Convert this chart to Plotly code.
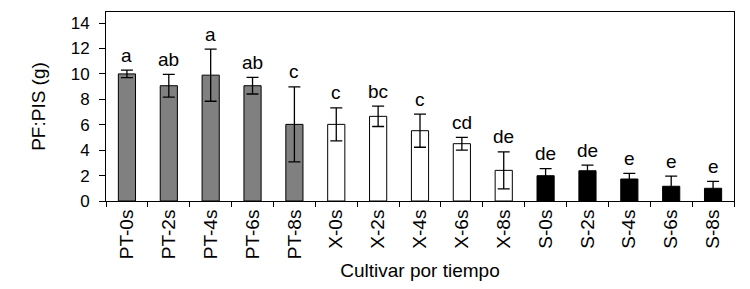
import plotly.graph_objects as go

categories = ["PT-0s", "PT-2s", "PT-4s", "PT-6s", "PT-8s",
              "X-0s", "X-2s", "X-4s", "X-6s", "X-8s",
              "S-0s", "S-2s", "S-4s", "S-6s", "S-8s"]
values = [10.0, 9.07, 9.9, 9.07, 6.03,
          6.03, 6.66, 5.53, 4.51, 2.41,
          1.99, 2.38, 1.73, 1.16, 1.0]
errors = [0.3, 0.9, 2.05, 0.65, 2.95,
          1.3, 0.8, 1.3, 0.5, 1.45,
          0.55, 0.45, 0.45, 0.8, 0.55]
letters = ["a", "ab", "a", "ab", "c",
           "c", "bc", "c", "cd", "de",
           "de", "de", "e", "e", "e"]
groups = ["PT"] * 5 + ["X"] * 5 + ["S"] * 5
group_colors = {"PT": "#808080", "X": "#ffffff", "S": "#000000"}

FONT = "Liberation Sans, Arial, sans-serif"
FS = 19

fig = go.Figure()
fig.add_trace(go.Bar(
    x=categories, y=values,
    marker=dict(color=[group_colors[g] for g in groups],
                line=dict(color="#000000", width=1)),
    error_y=dict(type="data", array=errors, visible=True,
                 color="#000000", thickness=1.3, width=6),
    showlegend=False,
))

for c, v, e, t in zip(categories, values, errors, letters):
    fig.add_annotation(x=c, y=v + e, text=t, showarrow=False,
                       yanchor="middle", yshift=15,
                       font=dict(family=FONT, size=FS, color="#000000"))

# page body adds an 8px offset, so the figure is sized/margined to compensate
fig.update_layout(
    width=742, height=281,
    margin=dict(l=98, r=16, t=4, b=88),
    paper_bgcolor="#ffffff", plot_bgcolor="#ffffff",
    bargap=0.59,
    font=dict(family=FONT, size=FS, color="#000000"),
    xaxis=dict(
        title=dict(text="Cultivar por tiempo", standoff=5,
                   font=dict(family=FONT, size=FS)),
        automargin=False,
        tickangle=-90, tickson="boundaries",
        ticks="outside", ticklen=5, tickcolor="#000000",
        showline=True, linecolor="#000000", linewidth=1, mirror=True,
        showgrid=False, tickfont=dict(family=FONT, size=FS),
    ),
    yaxis=dict(
        title=dict(text="PF:PIS (g)", standoff=20,
                   font=dict(family=FONT, size=FS)),
        automargin=False,
        range=[0, 14.87], tickvals=[0, 2, 4, 6, 8, 10, 12, 14],
        ticks="outside", ticklen=6, tickcolor="#000000",
        ticklabelstandoff=6,
        showline=True, linecolor="#000000", linewidth=1, mirror=True,
        showgrid=False, zeroline=False,
        tickfont=dict(family=FONT, size=17),
    ),
)

fig.write_html("out.html")
